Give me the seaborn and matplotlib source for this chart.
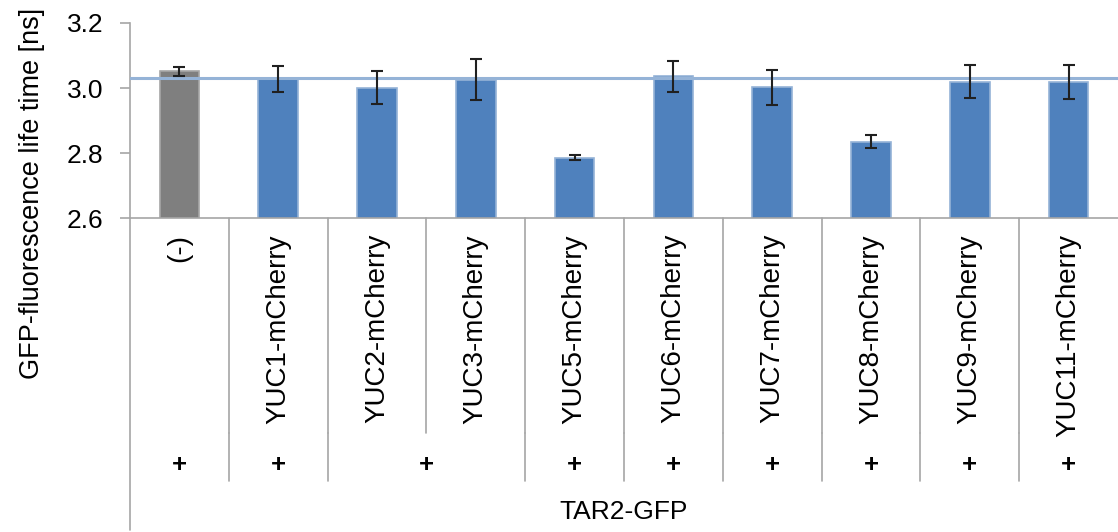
import matplotlib
matplotlib.use("Agg")
import matplotlib.pyplot as plt
import matplotlib.transforms as mtransforms
import seaborn as sns

# Mean GFP fluorescence lifetime per construct, with error bars
categories = ["(-)", "YUC1-mCherry", "YUC2-mCherry", "YUC3-mCherry", "YUC5-mCherry",
              "YUC6-mCherry", "YUC7-mCherry", "YUC8-mCherry", "YUC9-mCherry", "YUC11-mCherry"]
lifetimes = [3.052, 3.028, 3.001, 3.026, 2.786, 3.036, 3.002, 2.835, 3.020, 3.018]
errors = [0.014, 0.040, 0.050, 0.063, 0.007, 0.048, 0.053, 0.019, 0.051, 0.053]
reference_level = 3.03

# Second category level: "+" entries and the bars each one spans
plus_labels = ["+", "+", "+", "+", "+", "+", "+", "+", "+"]
plus_spans = [(0, 0), (1, 1), (2, 3), (4, 4), (5, 5), (6, 6), (7, 7), (8, 8), (9, 9)]
outer_label = "TAR2-GFP"

y_ticks = [2.6, 2.8, 3.0, 3.2]

bar_colors = ["#7f7f7f"] + ["#4f81bd"] * (len(categories) - 1)
edge_colors = ["#a6a6a6"] + ["#95b3d7"] * (len(categories) - 1)

sns.set_theme(style="white")
plt.rcParams["font.family"] = ["Liberation Sans", "DejaVu Sans"]
FS = 18.5
FS_CAT = 20
GRID = "#a6a6a6"

W, H = 1118, 532
fig = plt.figure(figsize=(W / 100, H / 100), dpi=100)
ax = fig.add_axes([130 / W, (H - 218) / H, 988 / W, 195 / H])

sns.barplot(x=categories, y=lifetimes, hue=categories, palette=bar_colors,
            legend=False, width=0.4, saturation=1, ax=ax, zorder=2)
for patch, ec in zip(ax.patches, edge_colors):
    patch.set_edgecolor(ec)
    patch.set_linewidth(1.2)

ax.axhline(reference_level, color="#95b3d7", lw=2.2, zorder=3)
ax.errorbar(range(len(categories)), lifetimes, yerr=errors, fmt="none",
            ecolor="#202020", elinewidth=1.5, capsize=4.5, capthick=1.5, zorder=4)

ax.set_xlim(-0.5, len(categories) - 0.5)
ax.set_ylim(2.6, 3.2)
ax.set_yticks(y_ticks)
ax.set_yticklabels([f"{v:.1f}" for v in y_ticks], fontsize=FS + 0.5, color="black")
ax.tick_params(axis="y", direction="out", length=7, width=1.2, color=GRID, pad=12, left=True)
ax.set_xticks([])
ax.set_xlabel("")
ax.set_ylabel("")

for side in ("top", "right"):
    ax.spines[side].set_visible(False)
for side in ("left", "bottom"):
    ax.spines[side].set_color(GRID)
    ax.spines[side].set_linewidth(1.2)

# x in data units, y in figure pixels measured from the top
blend = mtransforms.blended_transform_factory(ax.transData, fig.transFigure)
def fy(px):
    return 1 - px / H

# Inner level: rotated construct names
for i, name in enumerate(categories):
    ax.text(i, fy(234), name, rotation=90, ha="center", va="top",
            fontsize=FS_CAT, color="black", transform=blend)

# Separators between constructs
for i in range(1, len(categories)):
    ax.plot([i - 0.5, i - 0.5], [fy(218), fy(433)], color=GRID, lw=1.2,
            transform=blend, clip_on=False)

# Middle level: "+" marks and their separators
for lab, (a, b) in zip(plus_labels, plus_spans):
    ax.text((a + b) / 2, fy(465), lab, ha="center", va="center", fontweight="bold",
            fontsize=FS, color="black", transform=blend)
for (a, b) in plus_spans[1:]:
    ax.plot([a - 0.5, a - 0.5], [fy(433), fy(481)], color=GRID, lw=1.2,
            transform=blend, clip_on=False)

# Outer level label
ax.text((len(categories) - 1) / 2, fy(512), outer_label, ha="center", va="center",
        fontsize=FS + 0.5, color="black", transform=blend)

# Left axis line continues down through the category levels
ax.plot([-0.5, -0.5], [fy(218), fy(530)], color=GRID, lw=1.2,
        transform=blend, clip_on=False)

fig.text(32 / W, fy(193), "GFP-fluorescence life time [ns]", rotation=90,
         ha="center", va="center", fontsize=19.5, color="black")

fig.savefig("out.png", dpi=100)
